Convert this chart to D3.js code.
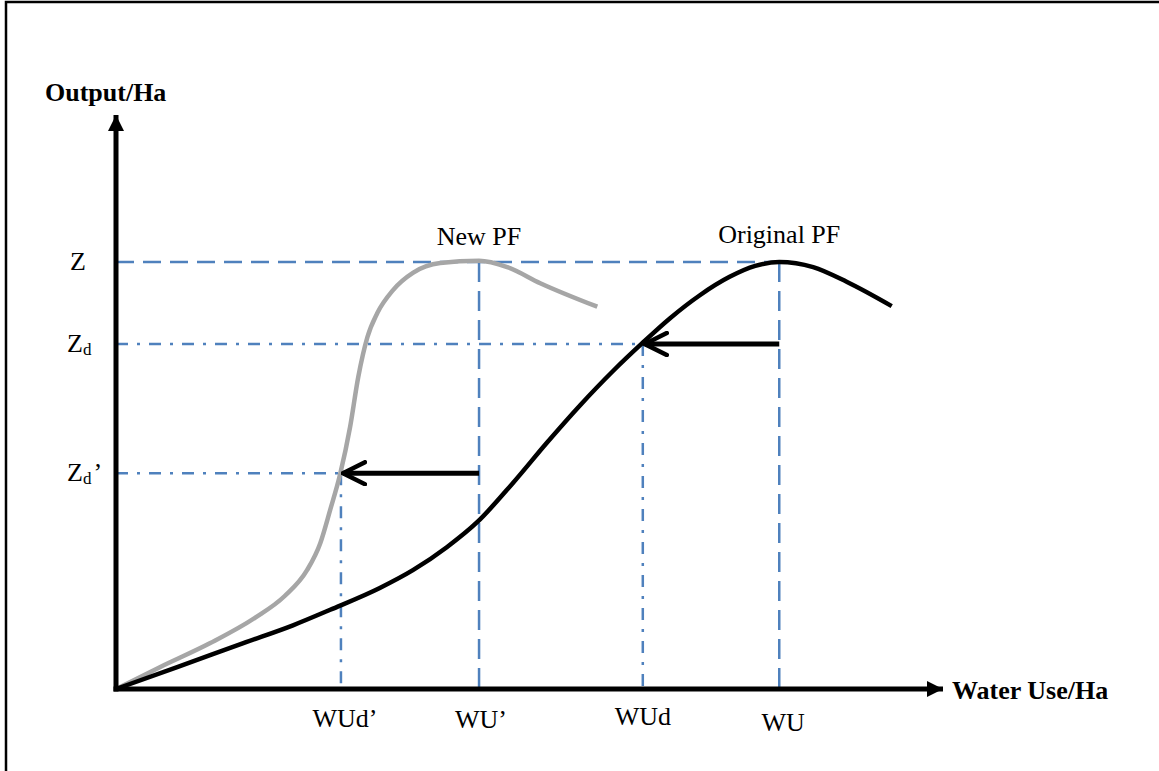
<!DOCTYPE html>
<html>
<head>
<meta charset="utf-8">
<script src="https://cdn.jsdelivr.net/npm/d3@7"></script>
<style>
  html, body { margin: 0; padding: 0; background: #fff; }
  svg { display: block; }
  text { font-family: "Liberation Serif", "Times New Roman", serif; fill: #000; }
</style>
</head>
<body>
<svg id="chart" width="1159" height="771"></svg>
<script>
// water use (x) and output (y) in arbitrary units 0..100
const originalPF = [
  [0, 0], [7.4, 3.8], [15.4, 8.0], [21.4, 11.1], [25.9, 13.8], [31.9, 17.6],
  [35.9, 20.7], [40.0, 24.7], [43.7, 29.1], [48.0, 35.9], [52.1, 42.9],
  [56.1, 49.4], [60.1, 55.4], [63.6, 60.2], [67.0, 64.6], [70.6, 68.6],
  [74.2, 71.8], [77.3, 73.7], [80.2, 74.4], [84.3, 73.5], [88.4, 70.9], [93.8, 66.7]
];
const newPF = [
  [0, 0], [5.3, 3.8], [11.4, 8.0], [16.8, 12.4], [20.4, 16.2], [23.1, 20.7],
  [24.7, 25.4], [25.9, 31.2], [27.1, 37.4], [28.3, 45.6], [29.3, 54.4],
  [30.4, 61.3], [31.6, 65.5], [33.5, 69.5], [35.9, 72.5], [39.2, 74.2],
  [43.9, 74.6], [47.3, 73.5], [51.3, 70.7], [58.2, 66.6]
];

// reference levels
const xTickValues = [27.2, 43.9, 63.7, 80.2];
const xTickLabels = ["WUd’", "WU’", "WUd", "WU"];
const yLevelValues = [74.4, 60.1, 37.6];
const yLevelNames = ["Z", "Z", "Z"];
const yLevelSubs = ["", "d", "d"];
const yLevelPrimes = ["", "", "’"];

// shifts: from WU to WUd at Zd, from WU' to WUd' at Zd'
const shifts = [
  { from: 80.2, to: 63.7, y: 60.1 },
  { from: 43.9, to: 27.2, y: 37.6 }
];

const svg = d3.select("#chart");
const blue = "#4f81bd";

const x = d3.scaleLinear().domain([0, 100]).range([116, 943]);
const y = d3.scaleLinear().domain([0, 100]).range([689, 115]);

// frame
svg.append("rect")
  .attr("x", 6).attr("y", 2)
  .attr("width", 1200).attr("height", 800)
  .attr("fill", "none").attr("stroke", "#000").attr("stroke-width", 2.5);

// markers
const defs = svg.append("defs");
defs.append("marker")
  .attr("id", "axisHead")
  .attr("viewBox", "0 0 16 16")
  .attr("refX", 16).attr("refY", 8)
  .attr("markerWidth", 16).attr("markerHeight", 16)
  .attr("markerUnits", "userSpaceOnUse")
  .attr("orient", "auto")
  .append("path").attr("d", "M0,0 L16,8 L0,16 Z").attr("fill", "#000");

defs.append("marker")
  .attr("id", "openHead")
  .attr("viewBox", "-2 -2 26 26")
  .attr("refX", 22).attr("refY", 11)
  .attr("markerWidth", 26).attr("markerHeight", 26)
  .attr("markerUnits", "userSpaceOnUse")
  .attr("orient", "auto")
  .append("path").attr("d", "M0,0 L22,11 L0,22")
  .attr("fill", "none").attr("stroke", "#000").attr("stroke-width", 4.5)
  .attr("stroke-linecap", "round").attr("stroke-linejoin", "miter");

// guide lines: horizontal from the y axis, vertical down to the x axis
const guides = svg.append("g");
const peakX = [xTickValues[1], xTickValues[3]];
// Z line spans to WU
guides.append("line")
  .attr("x1", x(0)).attr("x2", x(xTickValues[3]))
  .attr("y1", y(yLevelValues[0])).attr("y2", y(yLevelValues[0]))
  .attr("stroke", blue).attr("stroke-width", 2.5).attr("stroke-dasharray", "18,9");
peakX.forEach(v => {
  guides.append("line")
    .attr("x1", x(v)).attr("x2", x(v))
    .attr("y1", y(yLevelValues[0])).attr("y2", y(0))
    .attr("stroke", blue).attr("stroke-width", 2.5).attr("stroke-dasharray", "20,9");
});
// Zd to WUd, Zd' to WUd'
[[yLevelValues[1], xTickValues[2]], [yLevelValues[2], xTickValues[0]]].forEach(([yv, xv]) => {
  guides.append("line")
    .attr("x1", x(0)).attr("x2", x(xv))
    .attr("y1", y(yv)).attr("y2", y(yv))
    .attr("stroke", blue).attr("stroke-width", 2.5).attr("stroke-dasharray", "12,9,3,9");
  guides.append("line")
    .attr("x1", x(xv)).attr("x2", x(xv))
    .attr("y1", y(yv)).attr("y2", y(0))
    .attr("stroke", blue).attr("stroke-width", 2.5).attr("stroke-dasharray", "12,9,3,9");
});

// production functions
const line = d3.line()
  .x(d => x(d[0])).y(d => y(d[1]))
  .curve(d3.curveMonotoneX);

svg.append("path").datum(newPF)
  .attr("d", line)
  .attr("fill", "none").attr("stroke", "#a6a6a6").attr("stroke-width", 4.5)
  .attr("stroke-linecap", "butt");

svg.append("path").datum(originalPF)
  .attr("d", line)
  .attr("fill", "none").attr("stroke", "#000").attr("stroke-width", 4.5)
  .attr("stroke-linecap", "butt");

// shift arrows
shifts.forEach(s => {
  svg.append("line")
    .attr("x1", x(s.from)).attr("x2", x(s.to) + 2)
    .attr("y1", y(s.y)).attr("y2", y(s.y))
    .attr("stroke", "#000").attr("stroke-width", 5)
    .attr("marker-end", "url(#openHead)");
});

// axes
svg.append("line")
  .attr("x1", x(0)).attr("y1", y(0) + 2.5)
  .attr("x2", x(0)).attr("y2", y(100))
  .attr("stroke", "#000").attr("stroke-width", 5)
  .attr("marker-end", "url(#axisHead)");
svg.append("line")
  .attr("x1", x(0) - 2.5).attr("y1", y(0))
  .attr("x2", x(100)).attr("y2", y(0))
  .attr("stroke", "#000").attr("stroke-width", 5)
  .attr("marker-end", "url(#axisHead)");

// axis titles
svg.append("text")
  .attr("x", 45).attr("y", 101)
  .attr("font-size", 26).attr("font-weight", "bold")
  .text("Output/Ha");
svg.append("text")
  .attr("x", x(100) + 9).attr("y", y(0) + 10)
  .attr("font-size", 26).attr("font-weight", "bold")
  .text("Water Use/Ha");

// x tick labels
const xLabelDy = [38, 39, 36, 42];
const xLabelDx = [4, 2, 0, 4];
svg.append("g").selectAll("text")
  .data(xTickLabels)
  .join("text")
  .attr("x", (d, i) => x(xTickValues[i]) + xLabelDx[i])
  .attr("y", (d, i) => y(0) + xLabelDy[i])
  .attr("text-anchor", "middle")
  .attr("font-size", 26)
  .text(d => d);

// y level labels
const yLabelX = [70, 67, 67];
yLevelNames.forEach((name, i) => {
  const t = svg.append("text")
    .attr("x", yLabelX[i]).attr("y", y(yLevelValues[i]) + 8)
    .attr("font-size", 26);
  t.append("tspan").text(name);
  if (yLevelSubs[i]) {
    t.append("tspan").attr("font-size", 17).attr("dy", 3).text(yLevelSubs[i]);
  }
  if (yLevelPrimes[i]) {
    t.append("tspan").attr("dy", -3).attr("dx", 2).text(yLevelPrimes[i]);
  }
});

// curve names
svg.append("text")
  .attr("x", x(43.9)).attr("y", 245)
  .attr("text-anchor", "middle").attr("font-size", 26)
  .text("New PF");
svg.append("text")
  .attr("x", x(80.2)).attr("y", 243)
  .attr("text-anchor", "middle").attr("font-size", 26)
  .text("Original PF");
</script>
</body>
</html>
